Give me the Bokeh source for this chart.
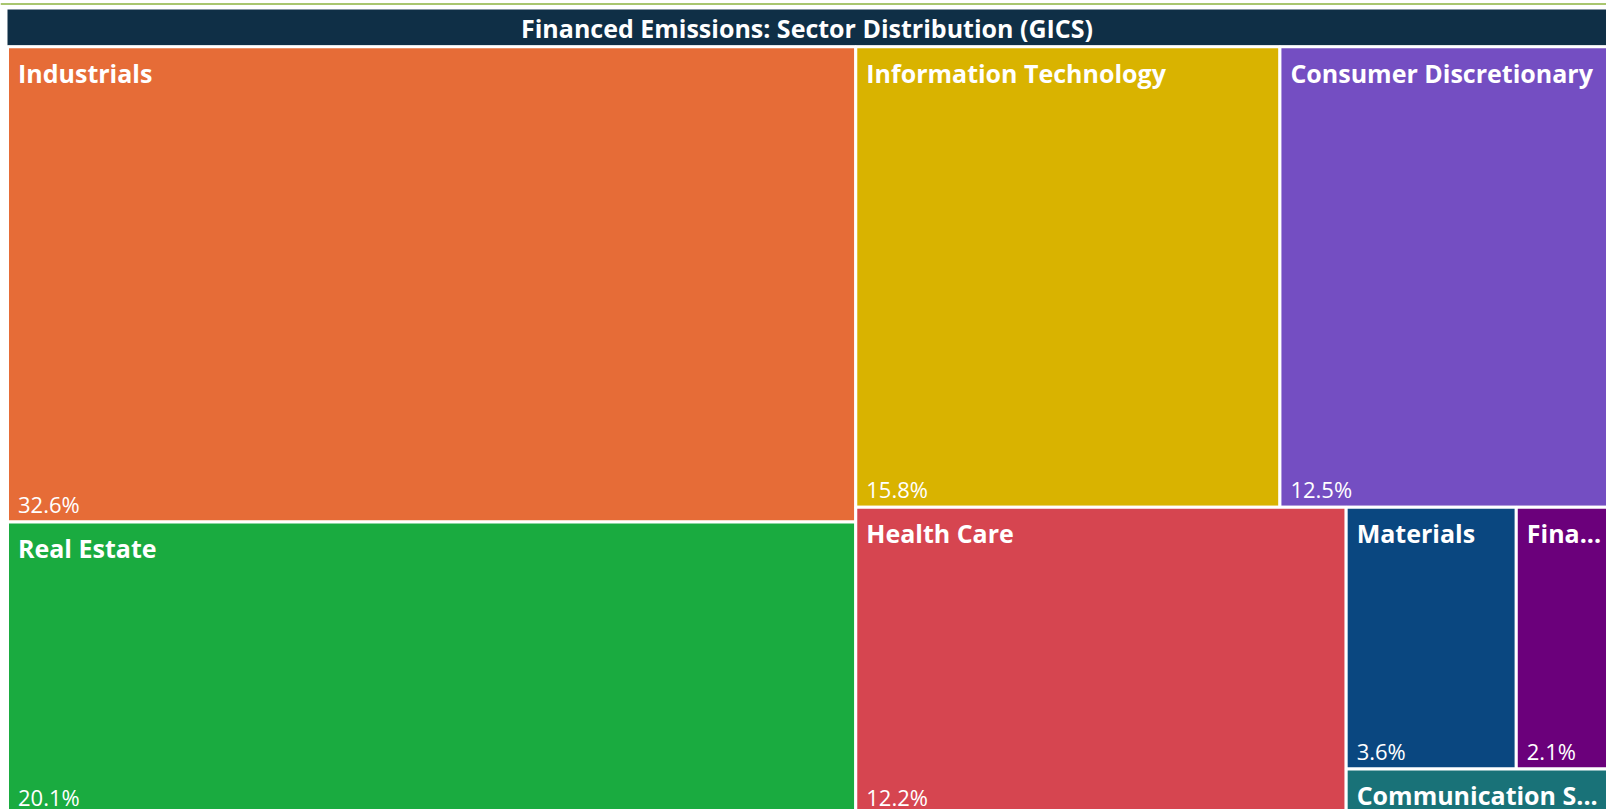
from bokeh.plotting import figure
from bokeh.models import ColumnDataSource, Range1d
from bokeh.embed import file_html
from bokeh.resources import INLINE
from bokeh.core.properties import value

# ---------------- data ----------------
TITLE = "Financed Emissions: Sector Distribution (GICS)"
sectors = ["Industrials", "Real Estate", "Information Technology",
           "Consumer Discretionary", "Health Care", "Materials",
           "Financials", "Communication Services"]
shares = [32.6, 20.1, 15.8, 12.5, 12.2, 3.6, 2.1, 1.0]
colors = ["#E66C37", "#1AAB40", "#D9B300", "#744EC2", "#D64550",
          "#0A4780", "#6B007B", "#197278"]

# ---------------- layout (squarified, golden ratio) ----------------
W, H = 1606, 809
PHI = (1 + 5 ** 0.5) / 2
BOX = (7, 46.2, 1615, 814.5)   # visual box (extends past the window)
GAP = 3


def squarify(values, x0, y0, x1, y1, ratio=PHI):
    n = len(values)
    rects = [None] * n
    total = float(sum(values))
    i0 = i1 = 0
    while i0 < n:
        dx, dy = x1 - x0, y1 - y0
        sum_v = values[i1]
        i1 += 1
        min_v = max_v = sum_v
        alpha = max(dy / dx, dx / dy) / (total * ratio)
        beta = sum_v * sum_v * alpha
        min_ratio = max(max_v / beta, beta / min_v)
        while i1 < n:
            v = values[i1]
            s = sum_v + v
            mn, mx = min(min_v, v), max(max_v, v)
            beta = s * s * alpha
            new_ratio = max(mx / beta, beta / mn)
            if new_ratio > min_ratio:
                break
            sum_v, min_v, max_v, min_ratio = s, mn, mx, new_ratio
            i1 += 1
        frac = sum_v / total
        if dx < dy:
            yb = y0 + dy * frac
            xx = x0
            for k in range(i0, i1):
                w = dx * values[k] / sum_v
                rects[k] = (xx, y0, xx + w, yb)
                xx += w
            y0 = yb
        else:
            xb = x0 + dx * frac
            yy = y0
            for k in range(i0, i1):
                h = dy * values[k] / sum_v
                rects[k] = (x0, yy, xb, yy + h)
                yy += h
            x0 = xb
        total -= sum_v
        i0 = i1
    return rects


rects = squarify(shares, *BOX)

# approximate advance widths (em) of a bold sans for label truncation
CW = {' ': .26, '.': .285, 'a': .608, 'b': .648, 'c': .522, 'd': .648,
      'e': .607, 'f': .401, 'g': .577, 'h': .668, 'i': .31, 'j': .31,
      'k': .636, 'l': .31, 'm': .99, 'n': .668, 'o': .631, 'p': .648,
      'q': .648, 'r': .465, 's': .515, 't': .437, 'u': .668, 'v': .58,
      'w': .88, 'x': .6, 'y': .58, 'z': .51, 'C': .634, 'F': .575,
      'S': .56, 'M': .927, 'I': .37, 'H': .752, 'D': .734, 'R': .666,
      'E': .566, 'T': .58}
LABEL_PX = 25
PAD = 10


def text_w(s):
    return sum(CW.get(c, .6) for c in s) * LABEL_PX


def fit(s, avail):
    if text_w(s) <= avail:
        return s
    for k in range(len(s) - 1, 0, -1):
        t = s[:k].rstrip() + "..."
        if text_w(t) <= avail:
            return t
    return "..."


left = [r[0] for r in rects]
top = [r[1] for r in rects]
right = [r[2] for r in rects]
bottom = [r[3] for r in rects]

cat_lbl, pct_lbl = [], []
for s, v, r in zip(sectors, shares, rects):
    w = r[2] - r[0] - GAP
    h = r[3] - r[1] - GAP
    cat_lbl.append(fit(s, w - 2 * PAD))
    pct_lbl.append(f"{v:.1f}%" if h > 90 else "")

src = ColumnDataSource(dict(left=left, right=right, top=top, bottom=bottom,
                            color=colors, cat=cat_lbl, pct=pct_lbl,
                            tx=[l + GAP / 2 for l in left],
                            ty=[t + GAP / 2 for t in top],
                            by=[b - GAP / 2 for b in bottom]))

p = figure(width=W, height=H, output_backend="svg", toolbar_location=None,
           x_range=Range1d(0, W), y_range=Range1d(H, 0),
           x_axis_type=None, y_axis_type=None, min_border=0,
           outline_line_color=None, background_fill_color="white",
           border_fill_color="white")
p.grid.visible = False

# top green rule
p.segment(x0=[0], y0=[3.5], x1=[W], y1=[3.5], line_color="#A9C66F",
          line_width=2)

# title bar
p.quad(left=[7], right=[W + 5], top=[9], bottom=[45],
       fill_color="#0F2F46", line_color=None)
p.text(x=[(7 + W) / 2], y=[27.5], text=[TITLE], text_color="white",
       text_font=value("Open Sans"), text_font_style="bold",
       text_font_size="25px", text_align="center", text_baseline="middle")

# tiles
p.quad(left="left", right="right", top="top", bottom="bottom", source=src,
       fill_color="color", line_color="white", line_width=GAP)

p.text(x="tx", y="ty", text="cat", source=src, x_offset=9, y_offset=24.5,
       text_color="white", text_font=value("Open Sans"),
       text_font_style="bold", text_font_size=f"{LABEL_PX}px",
       text_align="left", text_baseline="alphabetic")
p.text(x="tx", y="by", text="pct", source=src, x_offset=9, y_offset=-16.5,
       text_color="white", text_font=value("Open Sans"),
       text_font_size="22px", text_align="left",
       text_baseline="alphabetic")

open("out.html", "w").write(file_html(p, INLINE))
